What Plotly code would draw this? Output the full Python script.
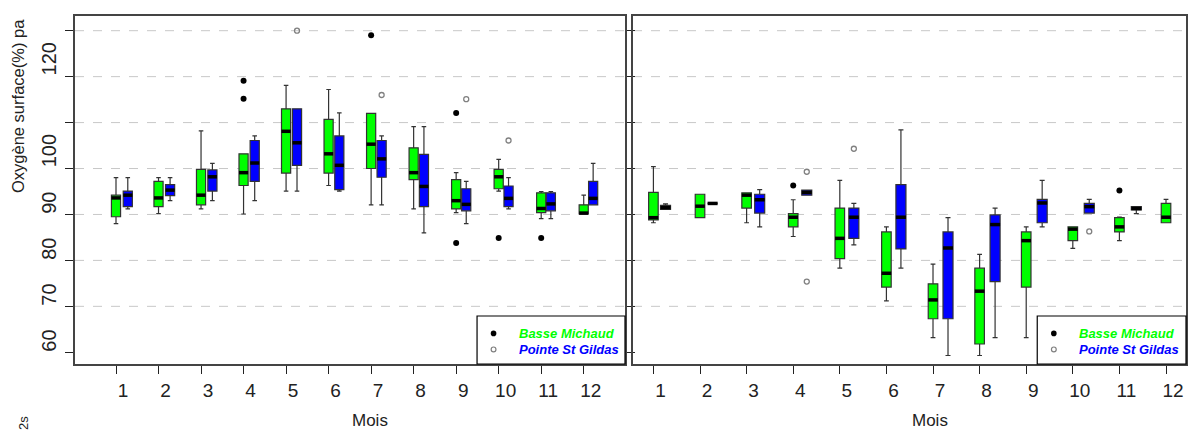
import plotly.graph_objects as go

# ---------------------------------------------------------------
# Monthly surface oxygen saturation (%) – two stations, two panels
# ---------------------------------------------------------------
months = list(range(1, 13))
month_labels = [str(m) for m in months]
y_tick_vals = [60, 70, 80, 90, 100, 110, 120, 130]
y_tick_text = ["60", "70", "80", "90", "100", "", "120", ""]
grid_levels = [70, 80, 90, 100, 110, 120, 130]
site_names = ["Basse Michaud", "Pointe St Gildas"]

# Left panel – Basse Michaud (whisker low, Q1, median, Q3, whisker high)
a_bm_low = [88.0, 90.2, 91.2, 90.1, 95.1, 96.3, 92.1, 91.2, 90.4, 95.1, 89.1, 90.1]
a_bm_q1 = [89.5, 91.7, 92.1, 96.3, 99.0, 99.0, 100.0, 97.6, 91.2, 95.6, 90.4, 90.1]
a_bm_med = [93.6, 93.6, 94.2, 99.1, 108.1, 103.2, 105.3, 99.1, 93.0, 98.2, 91.3, 90.3]
a_bm_q3 = [94.2, 97.2, 99.8, 103.2, 113.0, 110.7, 112.0, 104.5, 97.6, 99.8, 94.7, 92.1]
a_bm_high = [98.0, 98.0, 108.2, 103.2, 118.1, 117.2, 112.0, 109.1, 99.1, 102.0, 95.0, 94.2]
a_bm_out_month = [4, 4, 7, 9, 9, 10, 11]
a_bm_out_value = [119.1, 115.2, 129.0, 112.1, 83.8, 84.9, 84.9]

# Left panel – Pointe St Gildas
a_psg_low = [91.2, 93.0, 93.0, 93.0, 95.1, 95.1, 92.1, 86.0, 88.0, 91.2, 89.1, 92.1]
a_psg_q1 = [91.7, 94.1, 95.1, 97.2, 100.7, 95.4, 98.1, 91.7, 90.8, 91.7, 90.8, 92.1]
a_psg_med = [94.2, 95.3, 98.2, 101.2, 105.6, 100.7, 102.1, 96.1, 92.2, 93.5, 92.3, 93.5]
a_psg_q3 = [95.1, 96.5, 99.7, 106.1, 113.0, 107.1, 106.1, 103.1, 95.6, 96.2, 94.7, 97.2]
a_psg_high = [98.0, 98.0, 101.1, 107.1, 113.0, 112.1, 107.1, 109.1, 97.2, 98.0, 95.0, 101.1]
a_psg_out_month = [5, 7, 9, 10]
a_psg_out_value = [130.0, 116.0, 115.1, 106.1]

# Right panel – Basse Michaud
b_bm_low = [88.2, 89.3, 88.2, 85.2, 78.3, 71.2, 63.2, 59.3, 63.2, 82.6, 84.3, 88.2]
b_bm_q1 = [88.8, 89.3, 91.4, 87.3, 80.4, 74.2, 67.3, 61.8, 74.2, 84.3, 86.2, 88.2]
b_bm_med = [89.3, 91.8, 94.2, 89.4, 84.8, 77.2, 71.4, 73.3, 84.3, 86.8, 87.3, 89.4]
b_bm_q3 = [94.8, 94.4, 94.7, 90.2, 91.4, 86.2, 74.9, 78.3, 86.2, 87.3, 89.3, 92.4]
b_bm_high = [100.4, 94.4, 94.7, 93.2, 97.4, 87.3, 79.2, 81.3, 87.3, 87.3, 89.4, 93.3]
b_bm_out_month = [4, 11]
b_bm_out_value = [96.3, 95.2]

# Right panel – Pointe St Gildas (no December sample)
b_psg_low = [91.1, 92.4, 87.3, 94.2, 83.4, 78.3, 59.3, 63.2, 87.3, 90.3, 90.2, None]
b_psg_q1 = [91.1, 92.4, 90.3, 94.2, 84.8, 82.5, 67.3, 75.4, 88.2, 90.3, 91.0, None]
b_psg_med = [91.5, 92.4, 93.2, 94.8, 89.4, 89.4, 82.7, 87.8, 92.5, 91.7, 91.3, None]
b_psg_q3 = [92.0, 92.4, 94.4, 95.3, 91.4, 96.5, 86.2, 89.9, 93.3, 92.4, 91.7, None]
b_psg_high = [92.3, 92.4, 95.4, 95.3, 92.4, 108.4, 89.3, 91.4, 97.4, 93.3, 91.7, None]
b_psg_out_month = [4, 4, 5, 10]
b_psg_out_value = [99.3, 75.4, 104.3, 86.3]

GREEN = "#00ff00"
BLUE = "#0000ff"
EDGE = "#333333"
INK = "#222222"
FONT = "Liberation Sans, Arial, sans-serif"
TICK_SIZE = 20

fig = go.Figure()


def box_positions(lead, stretch):
    return [1 + lead + stretch * (m - 1) for m in months]


def add_group(xa, ya, pos, width, low, q1, med, q3, high, fill):
    xs, lo_, q1_, me_, q3_, hi_ = [], [], [], [], [], []
    for p, a, b, c, d, e in zip(pos, low, q1, med, q3, high):
        if c is None:
            continue
        xs.append(p)
        lo_.append(a)
        q1_.append(b)
        me_.append(c)
        q3_.append(d)
        hi_.append(e)
    fig.add_trace(go.Box(
        x=xs, lowerfence=lo_, q1=q1_, median=me_, q3=q3_, upperfence=hi_,
        orientation="v", width=width, whiskerwidth=0.5, boxpoints=False,
        fillcolor=fill, line=dict(color=EDGE, width=1.2),
        xaxis=xa, yaxis=ya, showlegend=False, hoverinfo="skip"))
    # thick median bars
    mx, my = [], []
    for p, c in zip(xs, me_):
        mx += [p - width / 2, p + width / 2, None]
        my += [c, c, None]
    fig.add_trace(go.Scatter(
        x=mx, y=my, mode="lines", line=dict(color="black", width=3.5),
        xaxis=xa, yaxis=ya, showlegend=False, hoverinfo="skip"))


def add_outliers(xa, ya, pos, out_m, out_v, filled):
    xs = [pos[m - 1] for m in out_m]
    if filled:
        marker = dict(symbol="circle", size=6, color="black")
    else:
        marker = dict(symbol="circle-open", size=5, color="#808080",
                      line=dict(width=1.3, color="#808080"))
    fig.add_trace(go.Scatter(
        x=xs, y=out_v, mode="markers", marker=marker,
        xaxis=xa, yaxis=ya, showlegend=False, hoverinfo="skip"))


# left panel
pos_a_bm = box_positions(0.0, 1.0)
pos_a_psg = box_positions(0.277, 0.995)
add_group("x", "y", pos_a_bm, 0.215, a_bm_low, a_bm_q1, a_bm_med, a_bm_q3, a_bm_high, GREEN)
add_group("x", "y", pos_a_psg, 0.215, a_psg_low, a_psg_q1, a_psg_med, a_psg_q3, a_psg_high, BLUE)
add_outliers("x", "y", pos_a_bm, a_bm_out_month, a_bm_out_value, True)
add_outliers("x", "y", pos_a_psg, a_psg_out_month, a_psg_out_value, False)

# right panel
pos_b_bm = box_positions(0.0, 1.0)
pos_b_psg = box_positions(0.26, 1.0103)
add_group("x2", "y2", pos_b_bm, 0.205, b_bm_low, b_bm_q1, b_bm_med, b_bm_q3, b_bm_high, GREEN)
add_group("x2", "y2", pos_b_psg, 0.215, b_psg_low, b_psg_q1, b_psg_med, b_psg_q3, b_psg_high, BLUE)
add_outliers("x2", "y2", pos_b_bm, b_bm_out_month, b_bm_out_value, True)
add_outliers("x2", "y2", pos_b_psg, b_psg_out_month, b_psg_out_value, False)

shapes = []
annotations = []
for xa, ya in (("x", "y"), ("x2", "y2")):
    # dashed horizontal grid
    for g in grid_levels:
        shapes.append(dict(type="line", xref=f"{xa} domain", yref=ya,
                           x0=0, x1=1, y0=g, y1=g, layer="below",
                           line=dict(color="#c8c8c8", width=1, dash="dash")))
    # legend frame
    shapes.append(dict(type="rect", xref=f"{xa} domain", yref=f"{ya} domain",
                       x0=0.731, x1=1.0, y0=0.0, y1=0.138,
                       line=dict(color="black", width=1.2), fillcolor="white",
                       layer="above"))
    shapes.append(dict(type="circle", xref=f"{xa} domain", yref=f"{ya} domain",
                       xsizemode="pixel", ysizemode="pixel",
                       xanchor=0.761, yanchor=0.088,
                       x0=-2.8, x1=2.8, y0=-2.8, y1=2.8,
                       fillcolor="black", line=dict(width=0)))
    shapes.append(dict(type="circle", xref=f"{xa} domain", yref=f"{ya} domain",
                       xsizemode="pixel", ysizemode="pixel",
                       xanchor=0.761, yanchor=0.042,
                       x0=-2.4, x1=2.4, y0=-2.4, y1=2.4,
                       fillcolor="white", line=dict(width=1.2, color="#808080")))
    for name, colour, yy in ((site_names[0], GREEN, 0.088), (site_names[1], BLUE, 0.042)):
        annotations.append(dict(
            text=f"<b><i>{name}</i></b>", xref=f"{xa} domain", yref=f"{ya} domain",
            x=0.803, y=yy, xanchor="left", yanchor="middle", showarrow=False,
            font=dict(family=FONT, size=13, color=colour)))
    annotations.append(dict(
        text="Mois", xref=f"{xa} domain", yref="paper", x=0.5, y=0,
        xanchor="left", yanchor="bottom", showarrow=False,
        font=dict(family=FONT, size=17, color=INK)))

# rotated y tick labels, each one starting at its tick
for val, txt in zip(y_tick_vals, y_tick_text):
    if not txt:
        continue
    half_len = 0.556 * TICK_SIZE * len(txt) / 2
    annotations.append(dict(
        text=txt, xref="paper", yref="y", x=49 / 1190, y=val,
        xanchor="center", yanchor="middle", yshift=half_len + 0.5,
        textangle=-90, showarrow=False,
        font=dict(family=FONT, size=TICK_SIZE, color=INK)))

annotations.append(dict(
    text="Oxygène surface(%) pa", xref="paper", yref="paper",
    x=18 / 1190, y=1 - 106 / 432, xanchor="center", yanchor="middle",
    textangle=-90, showarrow=False,
    font=dict(family=FONT, size=16.5, color=INK)))
annotations.append(dict(
    text="2s", xref="paper", yref="paper",
    x=21 / 1190, y=0, xanchor="center", yanchor="bottom", xshift=2,
    textangle=-90, showarrow=False,
    font=dict(family=FONT, size=13, color=INK)))

ydom = [1 - 364 / 432, 1 - 16 / 432]
common_x = dict(tickmode="array", tickvals=months, ticktext=month_labels,
                ticks="outside", ticklen=8, tickwidth=1.2, tickcolor=INK,
                showline=True, linecolor="#444444", linewidth=1.5, mirror=True,
                showgrid=False, zeroline=False, ticklabelshift=7,
                ticklabelstandoff=0,
                tickfont=dict(family=FONT, size=19, color=INK))
common_y = dict(range=[57.45, 133.2], domain=ydom, showgrid=False, zeroline=False,
                showline=True, linecolor="#444444", linewidth=1.5)

fig.update_layout(
    width=1190, height=432,
    margin=dict(l=0, r=0, t=0, b=0),
    paper_bgcolor="white", plot_bgcolor="white",
    boxmode="overlay",
    xaxis=dict(domain=[75 / 1190, 625 / 1190], range=[0.0357, 12.971],
               anchor="y", **common_x),
    xaxis2=dict(domain=[633 / 1190, 1186 / 1190], range=[0.562, 12.429],
                anchor="y2", **common_x),
    yaxis=dict(anchor="x", mirror="ticks", ticks="outside", ticklen=8,
               tickwidth=1.2, tickcolor=INK,
               tickmode="array", tickvals=y_tick_vals, showticklabels=False,
               **common_y),
    yaxis2=dict(anchor="x2", mirror=True, ticks="", showticklabels=False,
                **common_y),
    shapes=shapes,
    annotations=annotations,
)

fig.write_html("out.html")
